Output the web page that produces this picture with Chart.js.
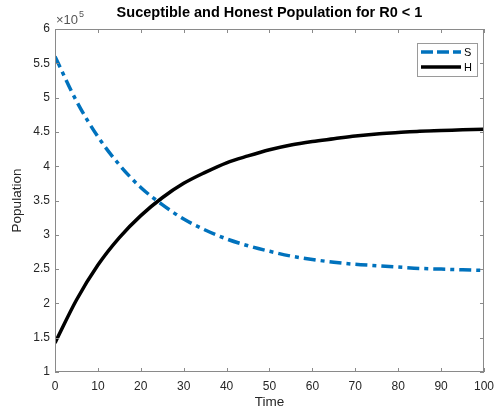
<!DOCTYPE html>
<html lang="en">
<head>
  <meta charset="UTF-8">
  <title>Suceptible and Honest Population for R0 < 1</title>
  <script src="https://cdn.jsdelivr.net/npm/chart.js"></script>
  <style>
    html, body {
      margin: 0;
      padding: 0;
      background: #ffffff;
    }
    #wrap {
      position: relative;
      width: 501px;
      height: 410px;
    }
  </style>
</head>
<body>
  <div id="wrap">
    <canvas id="chart" width="501" height="410"></canvas>
  </div>
  <script>
    // Data (population values in units of 10^5)
    const time = [0, 5, 10, 15, 20, 25, 30, 35, 40, 45, 50, 55, 60, 65, 70, 75, 80, 85, 90, 95, 100];
    const susceptible = [5.60, 4.95, 4.43, 4.02, 3.69, 3.44, 3.23, 3.07, 2.94, 2.84, 2.76,
                         2.69, 2.64, 2.60, 2.57, 2.55, 2.53, 2.51, 2.50, 2.49, 2.48];
    const honest = [1.425, 2.05, 2.56, 2.96, 3.28, 3.54, 3.75, 3.91, 4.05, 4.15, 4.24,
                    4.31, 4.36, 4.40, 4.44, 4.47, 4.49, 4.51, 4.52, 4.53, 4.54];
    const xTicks = [0, 10, 20, 30, 40, 50, 60, 70, 80, 90, 100];
    const yTicks = [1, 1.5, 2, 2.5, 3, 3.5, 4, 4.5, 5, 5.5, 6];
    const exponent = '5';

    const FONT = "'Liberation Sans', Arial, Helvetica, sans-serif";
    const AXIS_COLOR = '#8a8a8a';
    const TEXT_COLOR = '#262626';
    const S_COLOR = '#0072BD';

    // Box, inward ticks, title, exponent label and legend (MATLAB look)
    const matlabAxes = {
      id: 'matlabAxes',
      afterDraw(chart) {
        const ctx = chart.ctx;
        const area = chart.chartArea;
        const xs = chart.scales.x;
        const ys = chart.scales.y;
        const tl = 4;

        ctx.save();
        ctx.strokeStyle = AXIS_COLOR;
        ctx.lineWidth = 1;
        ctx.strokeRect(area.left + 0.5, area.top + 0.5, area.right - area.left - 1, area.bottom - area.top - 1);

        ctx.beginPath();
        xTicks.forEach(v => {
          const px = Math.round(xs.getPixelForValue(v)) + 0.5;
          ctx.moveTo(px, area.bottom);
          ctx.lineTo(px, area.bottom - tl);
          ctx.moveTo(px, area.top);
          ctx.lineTo(px, area.top + tl);
        });
        yTicks.forEach(v => {
          const py = Math.round(ys.getPixelForValue(v)) + 0.5;
          ctx.moveTo(area.left, py);
          ctx.lineTo(area.left + tl, py);
          ctx.moveTo(area.right, py);
          ctx.lineTo(area.right - tl, py);
        });
        ctx.stroke();

        // title
        ctx.fillStyle = '#000000';
        ctx.font = 'bold 14.5px ' + FONT;
        ctx.textAlign = 'center';
        ctx.textBaseline = 'middle';
        ctx.fillText('Suceptible and Honest Population for R0 < 1', (area.left + area.right) / 2, 13);

        // exponent label
        ctx.fillStyle = '#555555';
        ctx.textAlign = 'left';
        ctx.textBaseline = 'alphabetic';
        ctx.font = '13px ' + FONT;
        ctx.fillText('\u00d710', area.left + 1, 24);
        const w = ctx.measureText('\u00d710').width;
        ctx.font = '9px ' + FONT;
        ctx.fillText(exponent, area.left + 2 + w, 17);

        // legend
        const lx = 417, ly = 43, lw = 60, lh = 33;
        ctx.fillStyle = '#ffffff';
        ctx.fillRect(lx, ly, lw, lh);
        ctx.strokeStyle = '#9a9a9a';
        ctx.strokeRect(lx + 0.5, ly + 0.5, lw, lh);
        chart.data.datasets.forEach((ds, i) => {
          const yy = ly + 9 + i * 15;
          ctx.beginPath();
          ctx.strokeStyle = ds.borderColor;
          ctx.lineWidth = ds.borderWidth;
          ctx.setLineDash(ds.legendDash || []);
          ctx.moveTo(lx + 4, yy);
          ctx.lineTo(lx + 44, yy);
          ctx.stroke();
          ctx.setLineDash([]);
          ctx.fillStyle = '#000000';
          ctx.font = '11px ' + FONT;
          ctx.textBaseline = 'middle';
          ctx.fillText(ds.label, lx + 47, yy + 1);
        });
        ctx.restore();
      }
    };

    new Chart(document.getElementById('chart'), {
      type: 'line',
      data: {
        datasets: [
          {
            label: 'S',
            data: time.map((t, i) => ({ x: t, y: susceptible[i] })),
            borderColor: S_COLOR,
            borderWidth: 3.5,
            borderDash: [12, 5, 4, 5],
            legendDash: [12, 4],
            pointRadius: 0,
            fill: false,
            cubicInterpolationMode: 'monotone'
          },
          {
            label: 'H',
            data: time.map((t, i) => ({ x: t, y: honest[i] })),
            borderColor: '#000000',
            borderWidth: 3.5,
            pointRadius: 0,
            fill: false,
            cubicInterpolationMode: 'monotone'
          }
        ]
      },
      options: {
        responsive: false,
        animation: false,
        layout: { padding: { top: 29, right: 12, left: 0, bottom: 0 } },
        plugins: {
          legend: { display: false },
          title: { display: false },
          tooltip: { enabled: false }
        },
        scales: {
          x: {
            type: 'linear',
            min: 0,
            max: 100,
            afterBuildTicks: s => { s.ticks = xTicks.map(v => ({ value: v })); },
            afterFit: s => { s.height = 38; },
            grid: { display: false, drawTicks: false },
            border: { display: false },
            ticks: {
              padding: 7,
              color: TEXT_COLOR,
              font: { family: FONT, size: 12 },
              maxRotation: 0
            },
            title: {
              display: true,
              text: 'Time',
              color: TEXT_COLOR,
              font: { family: FONT, size: 13.5 },
              padding: { top: 0, bottom: 0 }
            }
          },
          y: {
            min: 1,
            max: 6,
            afterBuildTicks: s => { s.ticks = yTicks.map(v => ({ value: v })); },
            afterFit: s => { s.width = 55; },
            grid: { display: false, drawTicks: false },
            border: { display: false },
            ticks: {
              padding: 5,
              color: TEXT_COLOR,
              font: { family: FONT, size: 12 },
              callback: v => String(v)
            },
            title: {
              display: true,
              text: 'Population',
              color: TEXT_COLOR,
              font: { family: FONT, size: 13.5 },
              padding: { top: 9, bottom: 0 }
            }
          }
        }
      },
      plugins: [matlabAxes]
    });
  </script>
</body>
</html>
